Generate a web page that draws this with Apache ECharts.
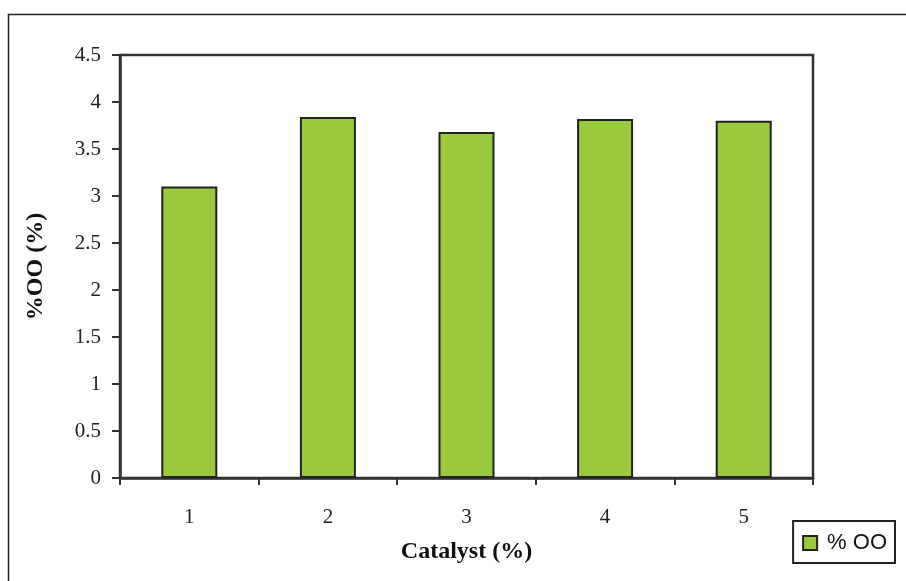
<!DOCTYPE html>
<html><head><meta charset="utf-8">
<script src="https://cdn.jsdelivr.net/npm/echarts@6/dist/echarts.min.js"></script>
<style>html,body{margin:0;padding:0;background:#fff}#c{width:906px;height:581px}</style>
</head><body><div id="c"></div>
<script>
const categories = ['1', '2', '3', '4', '5'];
const ooValues = [3.10, 3.84, 3.68, 3.82, 3.80];
const seriesName = '% OO';
const xTitle = 'Catalyst (%)';
const yTitle = '%OO (%)';

const chart = echarts.init(document.getElementById('c'));
const serif = '"Liberation Serif", "Times New Roman", serif';
chart.setOption({
  animation: false,
  backgroundColor: '#fff',
  graphic: [{
    type: 'rect', left: 6, top: 12, z: -1,
    shape: { width: 930, height: 600 },
    style: { fill: 'none', stroke: '#222', lineWidth: 1.5 }
  }],
  grid: { left: 120, top: 55, right: 93, bottom: 103, show: true, borderColor: '#333', borderWidth: 2.5 },
  legend: {
    right: 11, bottom: 18, itemWidth: 14, itemHeight: 14, itemGap: 5,
    padding: [11, 8, 9, 9],
    borderColor: '#222', borderWidth: 2, backgroundColor: '#fff',
    textStyle: { fontFamily: '"Liberation Sans", Arial, sans-serif', fontSize: 22, color: '#111', padding: [0, 0, 0, 5] },
    data: [{ name: seriesName, icon: 'rect' }]
  },
  xAxis: {
    type: 'category', data: categories,
    name: xTitle, nameLocation: 'middle', nameGap: 62,
    nameTextStyle: { fontFamily: serif, fontWeight: 'bold', fontSize: 24, color: '#111' },
    axisLine: { lineStyle: { color: '#333', width: 2.5 } },
    axisTick: { show: true, length: 7, lineStyle: { color: '#333', width: 2 } },
    axisLabel: { fontFamily: serif, fontSize: 21, color: '#222', margin: 29 }
  },
  yAxis: {
    type: 'value', min: 0, max: 4.5, interval: 0.5,
    name: yTitle, nameLocation: 'middle', nameGap: 72,
    nameTextStyle: { fontFamily: serif, fontWeight: 'bold', fontSize: 24, color: '#111' },
    splitLine: { show: false },
    axisLine: { show: true, lineStyle: { color: '#333', width: 2.5 } },
    axisTick: { show: true, length: 8, lineStyle: { color: '#333', width: 2 } },
    axisLabel: { fontFamily: serif, fontSize: 21, color: '#222', margin: 19 }
  },
  series: [{
    name: seriesName, type: 'bar', data: ooValues, barWidth: 56,
    itemStyle: { color: '#99C93D', borderColor: '#222', borderWidth: 2 }
  }]
});
</script></body></html>
